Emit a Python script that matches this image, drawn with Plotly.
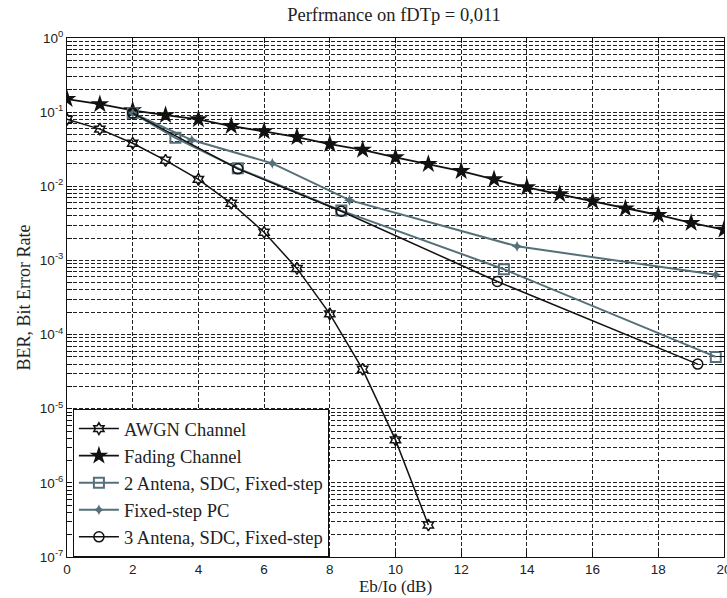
import plotly.graph_objects as go

# ---- data ----
awgn_x = [0, 1, 2, 3, 4, 5, 6, 7, 8, 9, 10, 11]
awgn_y = [0.080, 0.059, 0.038, 0.0224, 0.0124, 0.0059, 0.0024, 0.00078, 0.00019, 3.4e-5, 3.8e-6, 2.7e-7]

fading_x = list(range(0, 21))
fading_y = [0.15, 0.128, 0.106, 0.091, 0.080, 0.065, 0.055, 0.046, 0.037, 0.031, 0.0246,
            0.020, 0.016, 0.0124, 0.0097, 0.0078, 0.0063, 0.0050, 0.0041, 0.0032, 0.0026]

ant2_x = [2.0, 3.3, 5.2, 8.35, 13.3, 19.75]
ant2_y = [0.097, 0.045, 0.0175, 0.0047, 0.00076, 5.0e-5]

pc_x = [2.0, 3.8, 6.25, 8.6, 13.7, 19.75]
pc_y = [0.097, 0.042, 0.0204, 0.0065, 0.00155, 0.00064]

ant3_x = [2.0, 5.2, 8.35, 13.1, 19.2]
ant3_y = [0.097, 0.0172, 0.0046, 0.00052, 4.0e-5]

x_ticks = [0, 2, 4, 6, 8, 10, 12, 14, 16, 18, 20]
decades = [-7, -6, -5, -4, -3, -2, -1, 0]

title_text = "Perfrmance on fDTp = 0,011"
x_title = "Eb/Io (dB)"
y_title = "BER, Bit Error Rate"

# ---- figure ----
BLACK = "#111111"
GRAY = "#56707a"

fig = go.Figure()
fig.add_trace(go.Scatter(x=awgn_x, y=awgn_y, name="AWGN Channel", mode="lines+markers",
                         line=dict(color=BLACK, width=1.5),
                         marker=dict(symbol="hexagram-open", size=9, color=BLACK, line=dict(width=1.5))))
fig.add_trace(go.Scatter(x=fading_x, y=fading_y, name="Fading Channel", mode="lines+markers",
                         line=dict(color=BLACK, width=1.8),
                         marker=dict(symbol="star", size=14, color=BLACK)))
fig.add_trace(go.Scatter(x=ant2_x, y=ant2_y, name="2 Antena, SDC, Fixed-step", mode="lines+markers",
                         line=dict(color=GRAY, width=2),
                         marker=dict(symbol="square-open", size=10, color=GRAY, line=dict(width=2))))
fig.add_trace(go.Scatter(x=pc_x, y=pc_y, name="Fixed-step PC", mode="lines+markers",
                         line=dict(color=GRAY, width=2),
                         marker=dict(symbol="star-diamond", size=8, color=GRAY)))
fig.add_trace(go.Scatter(x=ant3_x, y=ant3_y, name="3 Antena, SDC, Fixed-step", mode="lines+markers",
                         line=dict(color=BLACK, width=1.5),
                         marker=dict(symbol="circle-open", size=10, color=BLACK, line=dict(width=1.5))))

y_vals, y_text = [], []
for d in decades:
    for m in range(1, 10):
        if d == 0 and m > 1:
            break
        y_vals.append(m * 10.0 ** d)
        y_text.append(f"10<sup>{d}</sup>" if m == 1 else "")

grid_dash = "4px,2px"
fig.update_layout(
    width=727, height=598,
    margin=dict(l=67, r=3, t=38, b=41),
    paper_bgcolor="white", plot_bgcolor="white",
    title=dict(text=title_text, x=394 / 727, xanchor="center", y=0.976, yanchor="middle",
               font=dict(family="Liberation Serif", size=18.5, color="#222")),
    showlegend=True,
    legend=dict(x=0.009, y=0.285, xanchor="left", yanchor="top",
                bgcolor="white", bordercolor=BLACK, borderwidth=1,
                font=dict(family="Liberation Serif", size=18.5, color="#222"),
                itemwidth=40, tracegroupgap=0),
    font=dict(family="Liberation Sans", size=12, color="#222"),
)
fig.update_xaxes(range=[0, 20], tickvals=x_ticks, ticktext=[str(t) for t in x_ticks],
                 showgrid=True, gridcolor="#222", griddash=grid_dash, gridwidth=1,
                 showline=True, linecolor=BLACK, linewidth=1, mirror="ticks",
                 ticks="inside", ticklen=5, tickcolor=BLACK, zeroline=False,
                 ticklabeloverflow="allow", automargin=False,
                 tickfont=dict(family="Liberation Sans", size=13.5),
                 title=dict(text=x_title, font=dict(family="Liberation Serif", size=17), standoff=3))
fig.update_yaxes(type="log", range=[-7, 0], tickvals=y_vals, ticktext=y_text,
                 showgrid=True, gridcolor="#222", griddash=grid_dash, gridwidth=1,
                 showline=True, linecolor=BLACK, linewidth=1, mirror="ticks",
                 ticks="inside", ticklen=5, tickcolor=BLACK, zeroline=False,
                 automargin=False,
                 tickfont=dict(family="Liberation Sans", size=13.5),
                 title=dict(text=y_title, font=dict(family="Liberation Serif", size=18), standoff=4))

fig.write_html("out.html")
